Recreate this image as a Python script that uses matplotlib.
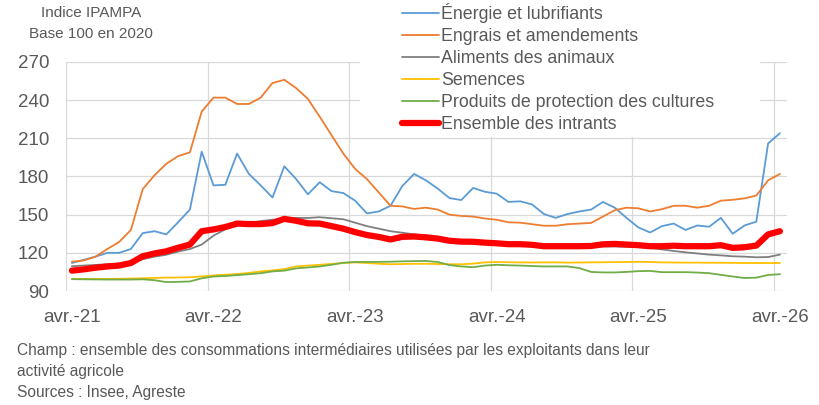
import matplotlib.pyplot as plt
from matplotlib.patches import Rectangle
import numpy as np

# indices mensuels avr.-21 -> avr.-26 (base 100 en 2020)
energie = [112, 114.5, 117, 120, 120, 123, 135.5, 137, 134.5, 144, 154, 199.5,
           173, 173.5, 198, 182, 173, 163.5, 188, 178, 166, 175.5, 168.5, 167,
           161, 151, 152.5, 157, 172.5, 182, 177, 170.5, 163, 161.5, 171, 168,
           166.5, 160, 160.5, 158, 150.5, 147.5, 150.5, 152.5, 154, 160, 155.5, 147.5,
           140, 136, 141, 143, 138, 141.5, 140.5, 147.5, 135, 141.5, 144.5, 206, 214]
engrais = [113, 114, 117, 123, 128.5, 138, 170, 181, 190, 196, 199, 231,
           242, 242, 237, 237, 242, 253.5, 256, 249.5, 241, 227, 212.5, 198,
           186, 178, 167.5, 157, 156.5, 154.5, 155.5, 154, 150, 149, 148.5, 147,
           146, 144, 143.7, 142.5, 141.3, 141.3, 142.5, 143, 143.5, 148.5, 153.5, 155.5,
           155, 152.5, 154.3, 157, 157, 155.5, 157, 161, 161.7, 162.8, 165, 177, 182]
aliments = [109.5, 110, 110.5, 111, 111.5, 113, 115, 117, 118.5, 121, 123, 126.5,
            133.5, 138.5, 142, 143.5, 145, 146, 147, 147.4, 147.4, 148, 147.2, 146.4,
            143.7, 141, 139, 137, 135.8, 134.5, 133.5, 132, 130.5, 129.5, 129, 128.2,
            127.6, 127, 126.5, 126, 125.5, 125.2, 125, 125, 125, 125, 125, 124.8,
            124.5, 124, 122.7, 121.5, 120.4, 119.5, 118.6, 118, 117.3, 117, 116.5, 116.7, 118.6]
semences = [99.5, 99.5, 99.5, 99.5, 99.6, 99.8, 100, 100.3, 100.5, 100.6, 100.8, 101.5,
            102.2, 102.8, 103.3, 104.2, 105.4, 106.2, 107.2, 109.3, 110, 110.6, 111.3, 112,
            112.5, 112, 111.4, 111, 111.2, 111.4, 111.4, 111.2, 111, 111, 111.5, 112.5,
            112.8, 112.6, 112.5, 112.4, 112.5, 112.5, 112.3, 112.4, 112.5, 112.6, 112.7, 112.8,
            113, 112.8, 112.5, 112.4, 112.3, 112.3, 112.2, 112.2, 112.1, 112, 112, 112, 112]
protection = [99.3, 99.2, 99.1, 99, 99, 99, 99.2, 98.5, 97, 97.2, 97.5, 100,
              101.4, 101.8, 102.5, 103.2, 104, 105.4, 106, 107.8, 108.5, 109.3, 110.6, 112.2,
              112.8, 112.8, 112.9, 113, 113.3, 113.5, 113.6, 112.8, 110.4, 109.3, 108.7, 110,
              110.6, 110.2, 110, 109.6, 109.3, 109.3, 109.3, 108, 105, 104.6, 104.6, 105,
              105.6, 105.8, 104.8, 104.8, 104.8, 104.5, 104, 102.7, 101.4, 100.2, 100.5, 102.6, 103.2]
ensemble = [106, 107, 108.3, 109.3, 110, 112, 117.3, 119.5, 121.2, 124, 126.5, 137,
            138.4, 140.3, 143, 142.6, 142.6, 143.4, 146.7, 145.2, 143.2, 143, 141, 139,
            136.3, 134, 132.5, 130.5, 132.6, 132.8, 132.2, 131.2, 129.5, 128.8, 128.7, 128,
            127.5, 126.8, 126.8, 126.3, 125.2, 125.2, 125.2, 125.2, 125.4, 126.7, 127, 126.5,
            126, 125.2, 125.2, 125.6, 125.2, 125.2, 125.2, 126, 123.9, 124.4, 125.7, 134.5, 137]

year_labels = ['avr.-21', 'avr.-22', 'avr.-23', 'avr.-24', 'avr.-25', 'avr.-26']

series = [
    ('Énergie et lubrifiants', energie, '#5B9BD5', 1.3),
    ('Engrais et amendements', engrais, '#ED7D31', 1.3),
    ('Aliments des animaux', aliments, '#7F7F7F', 1.3),
    ('Semences', semences, '#FFC000', 1.3),
    ('Produits de protection des cultures', protection, '#70AD47', 1.3),
    ('Ensemble des intrants', ensemble, '#FF0000', 4.5),
]

txt = '#595959'
grid = '#D9D9D9'
plt.rcParams['font.family'] = ['Liberation Sans', 'DejaVu Sans']

fig = plt.figure(figsize=(8.2, 4.05), dpi=100)
ax = fig.add_axes([66 / 820, 1 - 291 / 405, (787 - 66) / 820, (291 - 62) / 405])

x = np.arange(len(ensemble))
for name, vals, col, lw in series:
    ax.plot(x, vals, color=col, lw=lw, label=name, solid_capstyle='round')

ax.set_ylim(90, 270)
ax.set_yticks(range(90, 271, 30))
ax.set_xlim(-0.5, 60.6)
ax.set_xticks(range(0, 61, 12))
ax.set_xticklabels(year_labels)
ax.set_xticks(np.arange(-0.5, 61, 12), minor=True)
ax.grid(axis='y', color=grid, lw=0.9)
ax.grid(axis='x', which='minor', color=grid, lw=0.9)
ax.set_axisbelow(True)
for s in ax.spines.values():
    s.set_visible(False)
ax.tick_params(which='both', length=0)
ax.tick_params(axis='y', labelsize=13.5, labelcolor=txt, pad=12)
ax.tick_params(axis='x', labelsize=13.5, labelcolor=txt, pad=13)

# fond blanc de la légende par-dessus la grille
fig.patches.append(Rectangle((360 / 820, 1 - 137 / 405), 400 / 820, 137 / 405,
                             transform=fig.transFigure, facecolor='white',
                             edgecolor='none', zorder=1))
leg = fig.legend(loc='upper left', bbox_to_anchor=(402 / 820, 1 - 3 / 405),
                 frameon=False, fontsize=12.8, handlelength=2.1, handletextpad=0.08,
                 labelspacing=0.28, borderpad=0, borderaxespad=0)
for t in leg.get_texts():
    t.set_color(txt)

fig.text(91 / 820, 1 - 13 / 405, 'Indice IPAMPA', ha='center', va='center',
         fontsize=11, color=txt)
fig.text(91 / 820, 1 - 34 / 405, 'Base 100 en 2020', ha='center', va='center',
         fontsize=11, color=txt)

foot = ['Champ : ensemble des consommations intermédiaires utilisées par les exploitants dans leur',
        'activité agricole',
        'Sources : Insee, Agreste']
for i, line in enumerate(foot):
    fig.text(17 / 820, 1 - (350 + 21.5 * i) / 405, line, ha='left', va='center',
             fontsize=11.2, color=txt)

fig.savefig('out.png', dpi=100)
